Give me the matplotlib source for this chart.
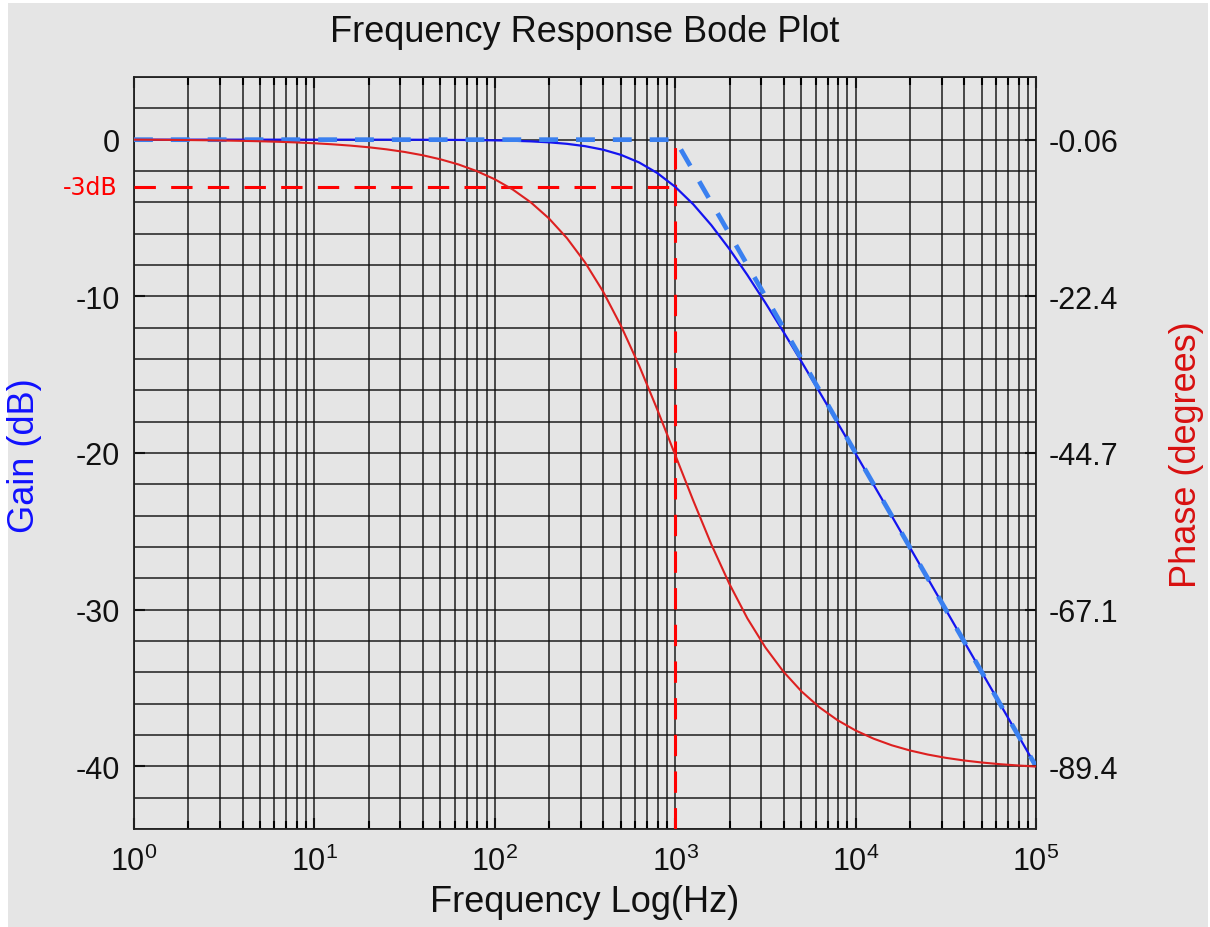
import numpy as np
import matplotlib
matplotlib.use("Agg")
import matplotlib.pyplot as plt
from matplotlib.patches import Rectangle
from matplotlib.ticker import LogLocator, FixedLocator, MultipleLocator

plt.rcParams['font.family'] = ['Liberation Sans', 'DejaVu Sans']
plt.rcParams['mathtext.fontset'] = 'custom'
plt.rcParams['mathtext.rm'] = 'Liberation Sans'
plt.rcParams['mathtext.it'] = 'Liberation Sans:italic'
plt.rcParams['axes.unicode_minus'] = False

# ---- data (frequency points every 1/10 decade) ----
freq_exp = [k / 10 for k in range(51)]
gain_db = [0.0, 0.0, 0.0, 0.0, 0.0, 0.0, -0.0001, -0.0001, -0.0002, -0.0003,
           -0.0004, -0.0007, -0.0011, -0.0017, -0.0027, -0.004, -0.0069, -0.0109,
           -0.0173, -0.0273, -0.0432, -0.0683, -0.1077, -0.1695, -0.2657, -0.414,
           -0.639, -0.973, -1.455, -2.125, -3.01, -4.125, -5.455, -6.973, -8.639,
           -10.414, -12.266, -14.17, -16.108, -18.068, -20.043, -22.027, -24.017,
           -26.011, -28.007, -30.004, -32.003, -34.002, -36.001, -38.0, -40.0]
phase_deg = [-0.0573, -0.0721, -0.0908, -0.1143, -0.1439, -0.1812, -0.2281,
             -0.2872, -0.3615, -0.4551, -0.5729, -0.7212, -0.908, -1.1431,
             -1.4389, -1.8112, -2.2797, -2.8692, -3.6047, -4.5417, -5.7106,
             -7.1752, -9.0056, -11.284, -14.1, -17.548, -21.697, -26.631,
             -32.261, -38.491, -45.0, -51.509, -57.739, -63.369, -68.303,
             -72.452, -75.9, -78.716, -80.994, -82.825, -84.289, -85.458,
             -86.395, -87.131, -87.72, -88.189, -88.561, -88.857, -89.092,
             -89.278, -89.427]
asym_freq = [1, 1000, 100000]
asym_gain = [0, 0, -40]
cutoff_freq = 1000
cutoff_gain = -3
gain_ticks = [0, -10, -20, -30, -40]
phase_ticks = [-0.06, -22.4, -44.7, -67.1, -89.4]
phase_labels = ['-0.06', '-22.4', '-44.7', '-67.1', '-89.4']

freq = [10 ** e for e in freq_exp]

bg = '#e5e5e5'
W, H = 1210, 928
fig = plt.figure(figsize=(W / 100, H / 100), dpi=100, facecolor='white')
fig.patches.append(Rectangle((8 / W, 0), 1200 / W, 924 / H, transform=fig.transFigure,
                             facecolor=bg, edgecolor='none', zorder=-10))
ax = fig.add_axes([134 / W, 1 - 830 / H, 902 / W, 752 / H])
ax.set_facecolor(bg)
ax.set_xscale('log')
ax.set_xlim(1, 1e5)
ax.set_ylim(-44, 4)

# grid
ax.xaxis.set_major_locator(LogLocator(base=10, numticks=10))
ax.xaxis.set_minor_locator(LogLocator(base=10, subs=np.arange(2, 10), numticks=100))
ax.yaxis.set_major_locator(FixedLocator(gain_ticks))
ax.yaxis.set_minor_locator(MultipleLocator(2))
ax.grid(True, which='both', color='#111111', linewidth=1.3, alpha=0.8)
ax.set_axisbelow(True)
for s in ax.spines.values():
    s.set_color('#222222')
    s.set_linewidth(1.3)

ax.tick_params(axis='both', which='major', direction='in', length=8, width=1.5,
               labelsize=22, top=True, right=False, pad=10, colors='#111111')
ax.tick_params(axis='x', which='minor', direction='in', length=6, width=1.5,
               top=True)
ax.tick_params(axis='y', which='minor', length=0)
ax.tick_params(axis='x', which='major', pad=12)

# -3dB reference lines
ax.plot([freq[0], cutoff_freq], [cutoff_gain, cutoff_gain], color='#ff0000',
        lw=2.2, dashes=(7, 5), zorder=3)
ax.plot([cutoff_freq, cutoff_freq], [-44, 0], color='#ff0000',
        lw=2.2, dashes=(7, 5), zorder=3)

# gain
ax.plot(freq, gain_db, color='#1414f0', lw=1.6, zorder=5)
# asymptote (drawn on top of gain curve)
ax.plot(asym_freq, asym_gain, color='#3a80f0', lw=3.4, dashes=(4, 3.8), zorder=6)

ax.text(-0.018, cutoff_gain, '-3dB', transform=ax.get_yaxis_transform(),
        ha='right', va='center', color='#ff0000', fontsize=17,
        family='DejaVu Sans')

ax.set_title('Frequency Response Bode Plot', fontsize=26, pad=26, color='#111111')

# phase on twin axis
ax2 = ax.twinx()
scale = (phase_ticks[-1] - phase_ticks[0]) / (gain_ticks[-1] - gain_ticks[0])
ax2.set_ylim(phase_ticks[0] + (-44 - gain_ticks[0]) * scale,
             phase_ticks[0] + (4 - gain_ticks[0]) * scale)
ax2.set_yticks(phase_ticks)
ax2.set_yticklabels(phase_labels)
ax2.tick_params(axis='y', direction='in', length=8, width=1.5, labelsize=22,
                pad=9, colors='#111111')
ax2.plot(freq, phase_deg, color='#dd2020', lw=1.5, zorder=5)
for s in ax2.spines.values():
    s.set_visible(False)

# axis labels placed in figure pixels
fig.text(25 / W, 1 - 456 / H, 'Gain (dB)', rotation=90, ha='center', va='center',
         color='#1010ff', fontsize=26)
fig.text(1187 / W, 1 - 455 / H, 'Phase (degrees)', rotation=90, ha='center',
         va='center', color='#d81010', fontsize=26)
fig.text(585 / W, 1 - 903 / H, 'Frequency Log(Hz)', ha='center', va='center',
         color='#111111', fontsize=26)

fig.savefig('out.png', dpi=100, facecolor='white')
